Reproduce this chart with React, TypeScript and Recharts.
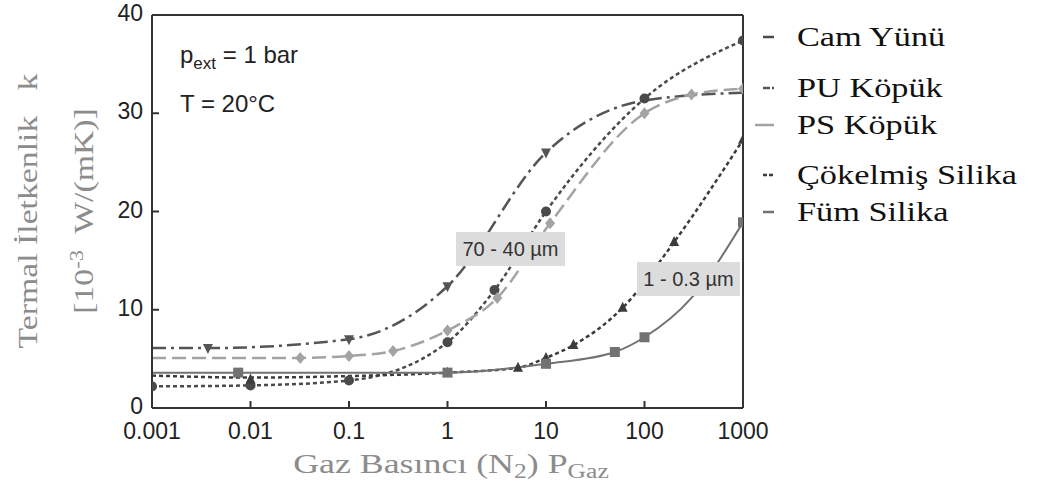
import React from 'react';
import { ComposedChart, Line, Scatter, XAxis, YAxis } from 'recharts';

const W = 1046;
const H = 491;

const xTicks = [0.001, 0.01, 0.1, 1, 10, 100, 1000];
const yTicks = [0, 10, 20, 30, 40];

// p = gas pressure, k = conductivity (10^-3 W/(mK))
const camYunuLine = [
  { p: 0.001, k: 2.2 }, { p: 0.01, k: 2.3 }, { p: 0.1, k: 2.8 }, { p: 1, k: 6.7 },
  { p: 3, k: 12 }, { p: 10, k: 20 }, { p: 100, k: 31.5 }, { p: 1000, k: 37.4 },
];
const camYunuPts = camYunuLine;

const puLine = [
  { p: 0.001, k: 6.1 }, { p: 0.0037, k: 6.1 }, { p: 0.1, k: 7.0 }, { p: 1, k: 12.4 },
  { p: 10, k: 26 }, { p: 100, k: 31.3 }, { p: 1000, k: 32.1 },
];
const puPts = [{ p: 0.0037, k: 6.1 }, { p: 0.1, k: 7.0 }, { p: 1, k: 12.4 }, { p: 10, k: 26 }];

const psLine = [
  { p: 0.001, k: 5.1 }, { p: 0.032, k: 5.1 }, { p: 0.1, k: 5.3 }, { p: 0.28, k: 5.8 },
  { p: 1, k: 7.9 }, { p: 3.2, k: 11.2 }, { p: 11, k: 18.8 }, { p: 100, k: 30 },
  { p: 300, k: 31.9 }, { p: 1000, k: 32.5 },
];
const psPts = psLine.slice(1);

const cokelmisLine = [
  { p: 0.001, k: 3.3 }, { p: 0.01, k: 3.1 }, { p: 0.1, k: 3.25 }, { p: 1, k: 3.6 },
  { p: 5.2, k: 4.1 }, { p: 10, k: 5.1 }, { p: 19, k: 6.4 }, { p: 60, k: 10.2 },
  { p: 200, k: 16.9 }, { p: 1000, k: 27.3 },
];
const cokelmisPts = [
  { p: 0.01, k: 2.9 }, { p: 1, k: 3.6 }, { p: 5.2, k: 4.1 }, { p: 10, k: 5.1 },
  { p: 19, k: 6.4 }, { p: 60, k: 10.2 }, { p: 200, k: 16.9 }, { p: 1000, k: 27.3 },
];

const fumLine = [
  { p: 0.001, k: 3.6 }, { p: 0.0075, k: 3.6 }, { p: 1, k: 3.6 }, { p: 10, k: 4.5 },
  { p: 50, k: 5.7 }, { p: 100, k: 7.2 }, { p: 300, k: 11.2 }, { p: 1000, k: 18.9 },
];
const fumPts = [
  { p: 0.0075, k: 3.6 }, { p: 1, k: 3.6 }, { p: 10, k: 4.5 }, { p: 50, k: 5.7 },
  { p: 100, k: 7.2 }, { p: 1000, k: 18.9 },
];

const series = [
  { name: 'Cam Yünü', line: camYunuLine, pts: camYunuPts, color: '#4a4a4a', dash: '4 3', width: 2.5, marker: 'circle' },
  { name: 'PU Köpük', line: puLine, pts: puPts, color: '#555555', dash: '14 5 3 5', width: 2.5, marker: 'triDown' },
  { name: 'PS Köpük', line: psLine, pts: psPts, color: '#a3a3a3', dash: '14 6', width: 2.5, marker: 'diamond' },
  { name: 'Çökelmiş Silika', line: cokelmisLine, pts: cokelmisPts, color: '#3c3c3c', dash: '4 3', width: 2.5, marker: 'triUp' },
  { name: 'Füm Silika', line: fumLine, pts: fumPts, color: '#727272', dash: '', width: 2, marker: 'square' },
];

const legendTops = [37, 88, 125, 175, 212];

const SANS = '"Liberation Sans", Arial, sans-serif';
const SERIF = '"Liberation Serif", "Times New Roman", serif';

const Marker = ({ cx, cy, kind, color }: any) => {
  if (cx == null || cy == null) return null;
  const s = 5;
  if (kind === 'circle') return <circle cx={cx} cy={cy} r={s} fill={color} />;
  if (kind === 'square') return <rect x={cx - s} y={cy - s} width={2 * s} height={2 * s} fill={color} />;
  if (kind === 'diamond')
    return <polygon points={`${cx},${cy - s - 1} ${cx + s},${cy} ${cx},${cy + s + 1} ${cx - s},${cy}`} fill={color} />;
  if (kind === 'triUp')
    return <polygon points={`${cx},${cy - s - 1} ${cx + s},${cy + s - 1} ${cx - s},${cy + s - 1}`} fill={color} />;
  return <polygon points={`${cx},${cy + s + 1} ${cx + s},${cy - s + 1} ${cx - s},${cy - s + 1}`} fill={color} />;
};

export default function App() {
  return (
    <div style={{ position: 'absolute', left: 0, top: 0, width: W, height: H, background: '#fff' }}>
      <ComposedChart width={W} height={H} margin={{ top: 5, right: 293, bottom: 43, left: 92 }}>
        <XAxis
          dataKey="p"
          type="number"
          scale="log"
          domain={[0.001, 1000]}
          ticks={xTicks}
          allowDataOverflow
          height={40}
          tickSize={-7}
          tickMargin={22}
          tickFormatter={(v: number) => String(v)}
          tick={{ fill: '#222', fontSize: 23, fontFamily: SANS }}
          stroke="#333"
          strokeWidth={2}
        />
        <XAxis
          xAxisId="top"
          orientation="top"
          dataKey="p"
          type="number"
          scale="log"
          domain={[0.001, 1000]}
          ticks={xTicks}
          allowDataOverflow
          height={10}
          tickSize={-7}
          tick={false}
          stroke="#333"
          strokeWidth={2}
        />
        <YAxis
          type="number"
          domain={[0, 40]}
          ticks={yTicks}
          width={60}
          tickSize={-7}
          tickMargin={16}
          tick={{ fill: '#222', fontSize: 23, fontFamily: SANS, dy: -2 }}
          stroke="#333"
          strokeWidth={2}
        />
        <YAxis
          yAxisId="right"
          orientation="right"
          type="number"
          domain={[0, 40]}
          ticks={yTicks}
          width={10}
          tickSize={-7}
          tick={false}
          stroke="#333"
          strokeWidth={2}
        />
        {series.map((s) => (
          <Line
            key={s.name + '-line'}
            data={s.line}
            dataKey="k"
            type="monotoneX"
            stroke={s.color}
            strokeWidth={s.width}
            strokeDasharray={s.dash || undefined}
            dot={false}
            activeDot={false}
            isAnimationActive={false}
          />
        ))}
        {series.map((s) => (
          <Scatter
            key={s.name + '-pts'}
            data={s.pts}
            dataKey="k"
            fill={s.color}
            shape={(props: any) => <Marker {...props} kind={s.marker} color={s.color} />}
            isAnimationActive={false}
          />
        ))}
      </ComposedChart>

      <svg width={W} height={H} style={{ position: 'absolute', left: 0, top: 0, pointerEvents: 'none' }}>
        {/* annotations */}
        <text x={180} y={63} fontFamily={SANS} fontSize={24} fill="#222">
          p<tspan fontSize={17} dy={6}>ext</tspan>
          <tspan dy={-6}> = 1 bar</tspan>
        </text>
        <text x={180} y={112} fontFamily={SANS} fontSize={24} fill="#222">T = 20°C</text>

        <rect x={456} y={232} width={109} height={34} fill="#dcdcdc" />
        <text x={510.5} y={256} textAnchor="middle" fontFamily={SANS} fontSize={20} fill="#333">70 - 40 µm</text>
        <rect x={637} y={262} width={103} height={34} fill="#dcdcdc" />
        <text x={688.5} y={286} textAnchor="middle" fontFamily={SANS} fontSize={20} fill="#333">1 - 0.3 µm</text>

        {/* axis titles (serif, stretched wide like the source) */}
        <text
          transform="translate(451 473) scale(1.28 1)"
          textAnchor="middle"
          fontFamily={SERIF}
          fontSize={28}
          fill="#8c8c8c"
        >
          Gaz Basıncı (N<tspan fontSize={20} dy={5}>2</tspan><tspan dy={-5}>) P</tspan>
          <tspan fontSize={20} dy={5}>Gaz</tspan>
        </text>
        <text
          transform="translate(37 211) rotate(-90) scale(1.25 1)"
          textAnchor="middle"
          fontFamily={SERIF}
          fontSize={27}
          fill="#8c8c8c"
          xmlSpace="preserve"
          style={{ whiteSpace: 'pre' }}
        >
          {'Termal İletkenlik   k'}
        </text>
        <text
          transform="translate(93 211) rotate(-90) scale(1.25 1)"
          textAnchor="middle"
          fontFamily={SERIF}
          fontSize={27}
          fill="#8c8c8c"
          xmlSpace="preserve"
          style={{ whiteSpace: 'pre' }}
        >
          [10<tspan fontSize={18} dy={-10}>-3</tspan><tspan dy={10}>{'  W/(mK)]'}</tspan>
        </text>

        {/* legend */}
        {series.map((s, i) => (
          <g key={s.name + '-leg'}>
            <line
              x1={i === 2 ? 755 : 763}
              x2={774}
              y1={legendTops[i]}
              y2={legendTops[i]}
              stroke={s.color}
              strokeWidth={2.5}
              strokeDasharray={i === 1 ? '7 2 2 2' : i === 3 ? '4 2' : undefined}
            />
            <text
              transform={`translate(797 ${legendTops[i] + 9}) scale(1.27 1)`}
              fontFamily={SERIF}
              fontSize={27}
              fill="#111"
            >
              {s.name}
            </text>
          </g>
        ))}
      </svg>
    </div>
  );
}
